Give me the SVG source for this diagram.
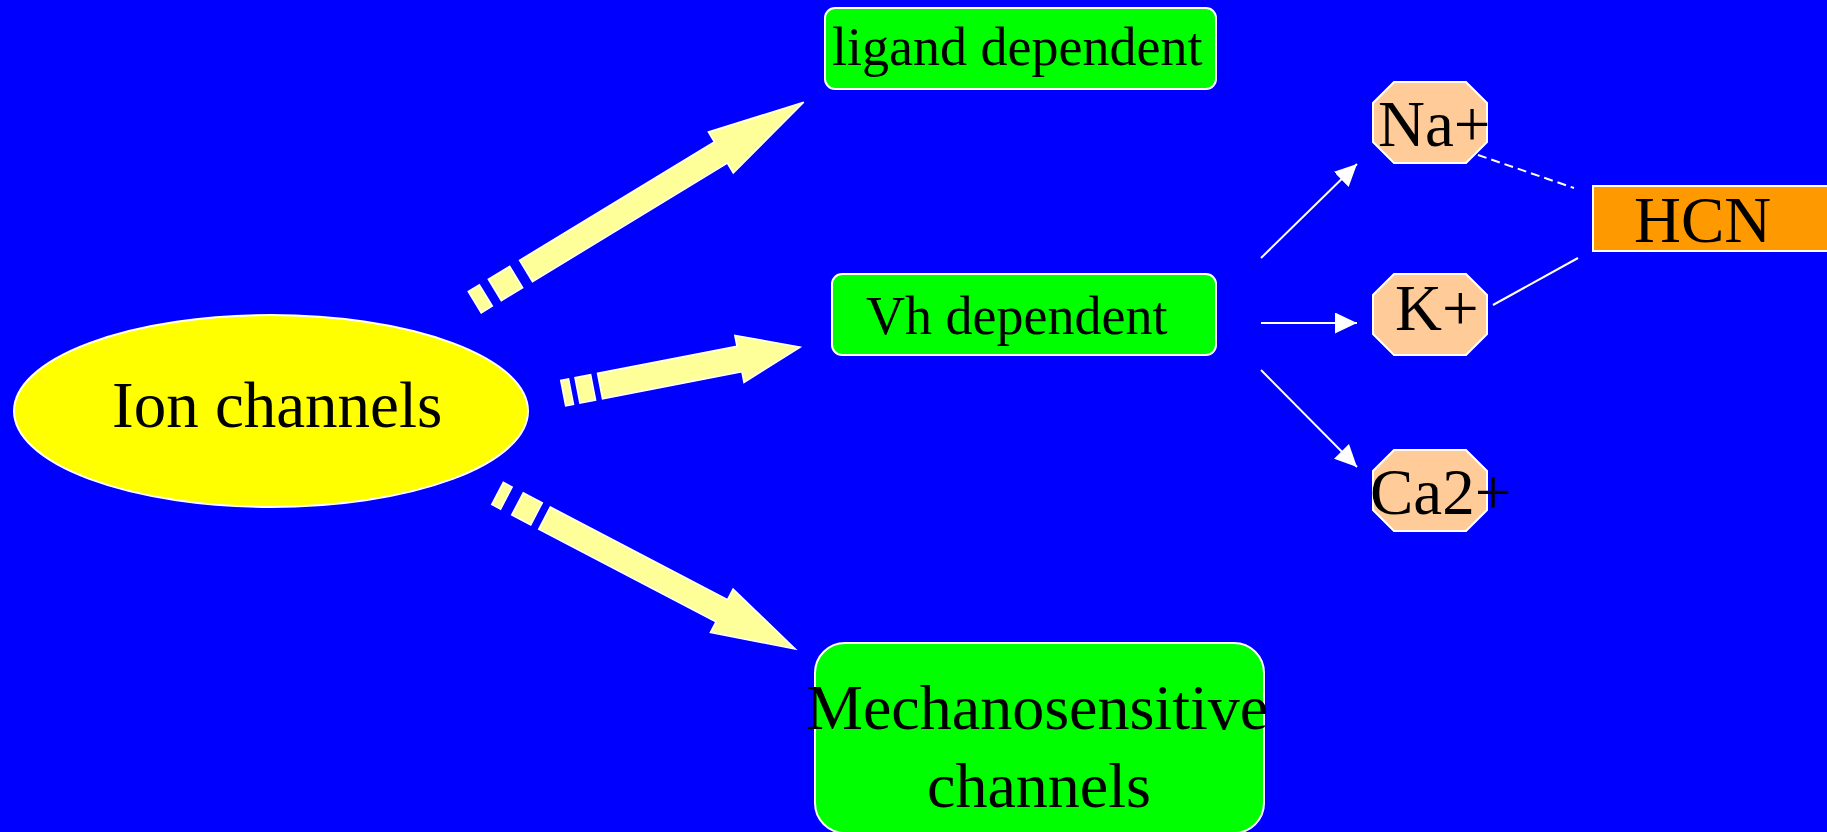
<svg xmlns="http://www.w3.org/2000/svg" width="1827" height="832" viewBox="0 0 1827 832">
  <style>
    .lbl { font-family: "Liberation Serif", "Times New Roman", serif; fill: #000; }
    .big { font-size: 65px; }
    .mid { font-size: 54px; }
    .box { fill: #00FF00; stroke: #FFFFFF; stroke-width: 2; }
    .ion { fill: #FFCC99; stroke: #FFFFFF; stroke-width: 2; }
    .fat { fill: #FFFF99; stroke: #FFFFFF; stroke-width: 1.5; }
    .wire { stroke: #FFFFFF; stroke-width: 2; fill: none; }
  </style>
  <defs>
    <marker id="head" markerUnits="userSpaceOnUse" markerWidth="22" markerHeight="22" refX="22" refY="10.5" orient="auto">
      <path d="M0,0 L22,10.5 L0,21 Z" fill="#FFFFFF"/>
    </marker>
  </defs>

  <rect width="1827" height="832" fill="#0000FF"/>

  <!-- striped block arrows -->
  <g id="connectors">
    <g id="arrow-ligand" class="fat" transform="translate(526,271) rotate(-31.3)">
      <rect x="-60" y="-12.5" width="13" height="25"/>
      <rect x="-36.5" y="-12.5" width="25" height="25"/>
      <path d="M0,-12.5 L228,-12.5 L228,-24 L325,0 L228,24 L228,12.5 L0,12.5 Z"/>
    </g>
    <g id="arrow-vh" class="fat" transform="translate(600,386) rotate(-11)">
      <rect x="-37.5" y="-13" width="8" height="26"/>
      <rect x="-23" y="-13" width="16" height="26"/>
      <path d="M0,-13 L142,-13 L142,-24 L204,0 L142,24 L142,13 L0,13 Z"/>
    </g>
    <g id="arrow-mech" class="fat" transform="translate(544.5,518) rotate(27.6)">
      <rect x="-53" y="-12.5" width="10" height="25"/>
      <rect x="-30.5" y="-12.5" width="21.5" height="25"/>
      <path d="M0,-12.5 L200,-12.5 L200,-24.5 L283,0 L200,24.5 L200,12.5 L0,12.5 Z"/>
    </g>

    <!-- thin connectors -->
    <line class="wire" x1="1261" y1="258" x2="1357" y2="164" marker-end="url(#head)"/>
    <line class="wire" x1="1261" y1="323" x2="1357" y2="323" marker-end="url(#head)"/>
    <line class="wire" x1="1261" y1="370" x2="1357" y2="467" marker-end="url(#head)"/>
    <line class="wire" x1="1478" y1="155" x2="1574" y2="188" stroke-dasharray="9 5"/>
    <line class="wire" x1="1493" y1="305" x2="1578" y2="258"/>
  </g>

  <g id="ion-channels">
    <ellipse cx="271" cy="411" rx="257" ry="96" fill="#FFFF00" stroke="#FFFFFF" stroke-width="2"/>
    <text class="lbl big" x="112" y="427">Ion channels</text>
  </g>

  <g id="ligand-dependent">
    <rect class="box" x="825" y="8" width="391" height="81" rx="10"/>
    <text class="lbl mid" x="832" y="65">ligand dependent</text>
  </g>

  <g id="vh-dependent">
    <rect class="box" x="832" y="274" width="384" height="81" rx="10"/>
    <text class="lbl mid" x="866" y="334">Vh dependent</text>
  </g>

  <g id="mechanosensitive">
    <rect class="box" x="815" y="643" width="449" height="190" rx="30"/>
    <text class="lbl" font-size="64" x="806" y="729">Mechanosensitive</text>
    <text class="lbl" font-size="64" x="927" y="807">channels</text>
  </g>

  <g id="na">
    <polygon class="ion" points="1394,82 1466,82 1487,103 1487,142 1466,163 1394,163 1373,142 1373,103"/>
    <text class="lbl big" x="1378" y="146">Na+</text>
  </g>

  <g id="k">
    <polygon class="ion" points="1394,274 1466,274 1487,295 1487,334 1466,355 1394,355 1373,334 1373,295"/>
    <text class="lbl big" x="1395" y="330">K+</text>
  </g>

  <g id="ca">
    <polygon class="ion" points="1394,450 1466,450 1487,471 1487,510 1466,531 1394,531 1373,510 1373,471"/>
    <text class="lbl big" x="1370" y="514">Ca2+</text>
  </g>

  <g id="hcn">
    <rect x="1593" y="186" width="240" height="65" fill="#FF9900" stroke="#FFFFFF" stroke-width="2"/>
    <text class="lbl big" x="1634" y="242">HCN</text>
  </g>
</svg>
